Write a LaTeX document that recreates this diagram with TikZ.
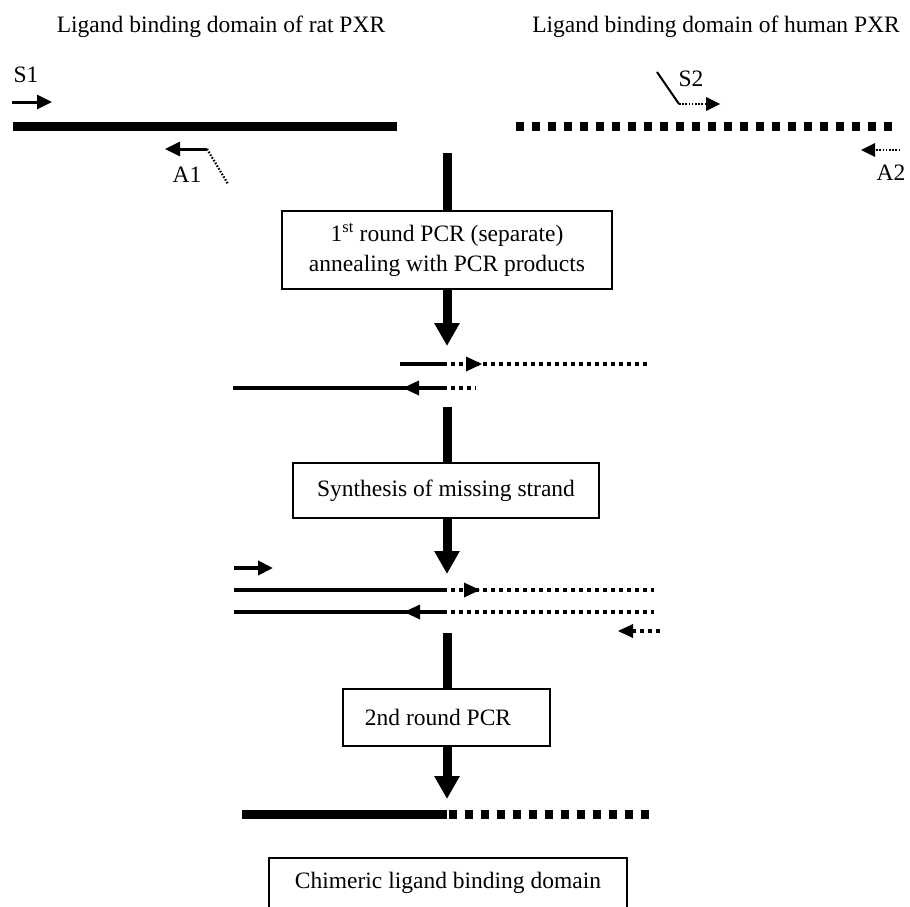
\documentclass[tikz,border=0pt]{standalone}
\usepackage{fontspec}
\setmainfont{Liberation Serif}
\usetikzlibrary{arrows.meta}
\newcommand{\mytipR}[2]{\fill (#1,#2) -- ++(-16,-7.5) -- ++(0,15) -- cycle;}
\newcommand{\mytipL}[2]{\fill (#1,#2) -- ++(16,-7.5) -- ++(0,15) -- cycle;}
\begin{document}
\begin{tikzpicture}[x=1pt,y=-1pt,
  txt/.style={font=\fontsize{23.5}{30}\selectfont, inner sep=0pt},
  box/.style={draw, line width=1.6pt, font=\fontsize{23.5}{30}\selectfont, align=center, inner sep=0pt},
  bar/.style={line width=9pt},
  flow/.style={line width=9pt, -{Triangle[width=24pt,length=23pt]}},
  ratdna/.style={line width=9pt},
  humdna/.style={line width=9pt, dash pattern=on 8pt off 8pt},
  solidstrand/.style={line width=4pt},
  dotstrand/.style={line width=4pt, dash pattern=on 4pt off 4pt},
  primer/.style={line width=3pt, -{Triangle[width=14pt,length=15pt]}},
  fineline/.style={line width=2pt},
  finedot/.style={line width=2.2pt, dash pattern=on 1.6pt off 1.6pt}]
\clip (0,0) rectangle (910,907);
\fill[white] (0,0) rectangle (910,907);

% titles
\node[txt, anchor=base] (t1) at (221,33) {Ligand binding domain of rat PXR};
\node[txt, anchor=base] (t2) at (716,33) {Ligand binding domain of human PXR};

% template strands
\draw[ratdna] (13,126) -- (397,126);
\draw[humdna] (516,126) -- (894,126);

% S1 primer
\node[txt, anchor=base] (s1) at (26,82) {S1};
\draw[primer] (12,102) -- (52,102);
% A1 primer
\node[txt, anchor=base] (a1) at (187,182) {A1};
\draw[primer] (207,149) -- (165,149);
\draw[finedot] (207,149) -- (228,184);
% S2 primer
\node[txt, anchor=base] (s2) at (691,86) {S2};
\draw[fineline] (657,72) -- (679,104);
\draw[finedot] (679,104) -- (707,104);
\fill (720,104) -- ++(-14,-7) -- ++(0,14) -- cycle;
% A2 primer
\node[txt, anchor=base] (a2) at (891,180) {A2};
\draw[finedot] (873,150) -- (899,150);
\fill (861,150) -- ++(14,-7) -- ++(0,14) -- cycle;

% boxes
\node[box, minimum width=330pt, minimum height=78pt] (b1) at (447,250)
  {1\textsuperscript{st} round PCR (separate)\\annealing with PCR products};
\node[box, minimum width=306pt, minimum height=55pt] (b2) at (446,490.5)
  {Synthesis of missing strand};
\node[box, minimum width=207pt, minimum height=57pt] (b3) at (446.5,717.5)
  {2nd round PCR\hspace*{17pt}};
\node[box, minimum width=358pt, minimum height=50pt] (b4) at (448,883)
  {Chimeric ligand binding domain};

% flow
\coordinate (f0) at (447,153);
\coordinate (f1) at (447,346);
\coordinate (f2) at (447,407);
\coordinate (f3) at (447,574);
\coordinate (f4) at (447,633);
\coordinate (f5) at (447,799);
\draw[bar] (f0) -- (f0 |- b1.north);
\draw[flow] (f1 |- b1.south) -- (f1);
\draw[bar] (f2) -- (f2 |- b2.north);
\draw[flow] (f3 |- b2.south) -- (f3);
\draw[bar] (f4) -- (f4 |- b3.north);
\draw[flow] (f5 |- b3.south) -- (f5);

% annealed products
\draw[solidstrand] (400,364) -- (443,364);
\draw[dotstrand] (443,364) -- (650,364);
\mytipR{482}{364}
\draw[solidstrand] (233,388) -- (443,388);
\mytipL{403}{388}
\draw[dotstrand] (443,388) -- (476,388);

% after synthesis
\draw[solidstrand, -{Triangle[width=14pt,length=15pt]}] (234,568) -- (273,568);
\draw[solidstrand] (234,590) -- (443,590);
\draw[dotstrand] (443,590) -- (654,590);
\mytipR{480}{590}
\draw[solidstrand] (234,612) -- (443,612);
\mytipL{404}{612}
\draw[dotstrand] (443,612) -- (654,612);
\draw[dotstrand] (632,631) -- (660,631);
\fill (618,631) -- ++(15,-7) -- ++(0,14) -- cycle;

% final chimera
\draw[ratdna] (242,814) -- (447,814);
\draw[humdna] (449,814) -- (652,814);
\end{tikzpicture}
\end{document}
